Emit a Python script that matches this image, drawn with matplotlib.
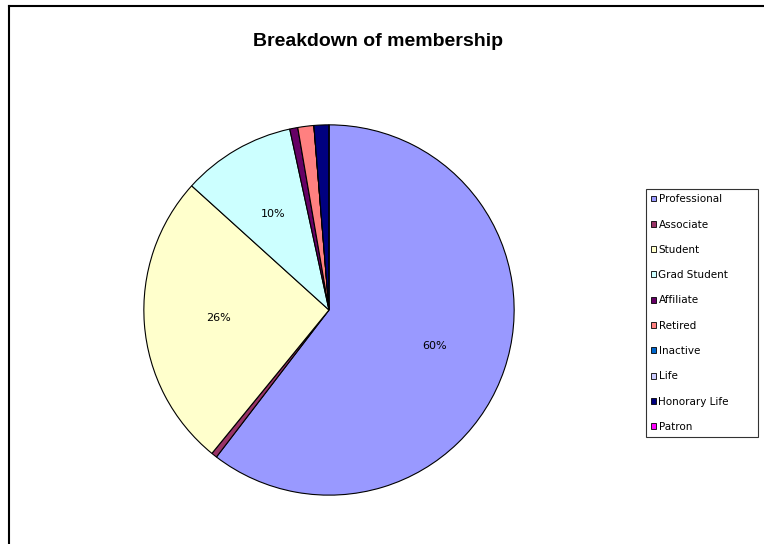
import matplotlib
matplotlib.use("Agg")
import matplotlib.pyplot as plt
from matplotlib.lines import Line2D
from matplotlib.patches import Patch

# membership categories and share of total (%)
categories = ["Professional", "Associate", "Student", "Grad Student", "Affiliate",
              "Retired", "Inactive", "Life", "Honorary Life", "Patron"]
shares = [60.4, 0.5, 25.8, 9.9, 0.7, 1.4, 0.0, 0.0, 1.3, 0.0]
colors = ["#9999FF", "#993366", "#FFFFCC", "#CCFFFF", "#660066",
          "#FF8080", "#0066CC", "#CCCCFF", "#000080", "#FF00FF"]

plt.rcParams["font.family"] = ["Liberation Sans", "DejaVu Sans"]

W, H = 764, 544
fig = plt.figure(figsize=(W / 100, H / 100), dpi=100)

# pie centred at (329, 310) px, radius 187 px
cx, cy, r = 329, 310, 187
ax = fig.add_axes([(cx - r) / W, (H - cy - r) / H, 2 * r / W, 2 * r / H])


def pct_label(p):
    return f"{p:.0f}%" if p >= 5 else ""


wedges, texts, autotexts = ax.pie(
    shares, colors=colors, startangle=90, counterclock=False,
    autopct=pct_label, pctdistance=0.6,
    wedgeprops=dict(edgecolor="black", linewidth=0.8),
    textprops=dict(fontsize=8, color="black", family="DejaVu Sans"),
)
ax.set_xlim(-1.01, 1.01)
ax.set_ylim(-1.01, 1.01)

fig.text(378 / W, 1 - 42 / H, "Breakdown of membership", ha="center", va="center",
         fontsize=14, fontweight="bold")

handles = [Patch(facecolor=c, edgecolor="black", linewidth=0.6) for c in colors]
leg = fig.legend(handles, categories, loc="upper left", mode="expand",
                 bbox_to_anchor=(646 / W, 1 - 437 / H, 112 / W, 248 / H),
                 prop=dict(family="DejaVu Sans", size=7.5),
                 frameon=True, fancybox=False, edgecolor="black",
                 handlelength=0.5, handleheight=0.5, handletextpad=0.2,
                 labelspacing=1.47, borderpad=0.5, borderaxespad=0)
leg.get_frame().set_linewidth(0.8)

# chart area border along top and left edges
fig.add_artist(Line2D([9 / W, 1], [1 - 6 / H, 1 - 6 / H], color="black", lw=1.5,
                      transform=fig.transFigure))
fig.add_artist(Line2D([9 / W, 9 / W], [0, 1 - 6 / H], color="black", lw=1.5,
                      transform=fig.transFigure))

fig.savefig("out.png", dpi=100)
